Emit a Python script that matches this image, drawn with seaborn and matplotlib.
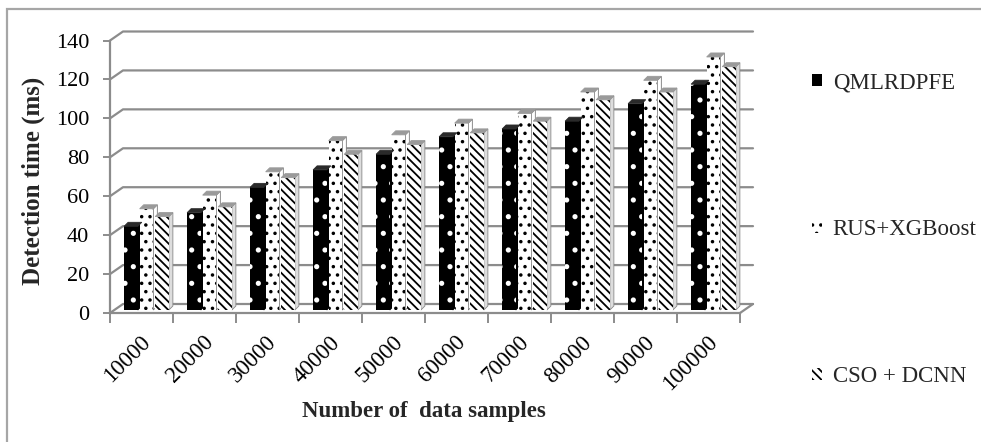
import numpy as np
import pandas as pd
import matplotlib
matplotlib.use("Agg")
import matplotlib.pyplot as plt
import matplotlib.transforms as mtrans
import seaborn as sns
from matplotlib.patches import Patch, Polygon, Rectangle
from matplotlib.lines import Line2D

# ---------------- data ----------------
samples = ["10000", "20000", "30000", "40000", "50000",
           "60000", "70000", "80000", "90000", "100000"]
qmlrdpfe = [43, 50, 63, 72, 80, 89, 93, 97, 106, 116]
rus_xgboost = [52, 59, 71, 87, 90, 96, 101, 112, 118, 130]
cso_dcnn = [48, 53, 68, 80, 85, 91, 97, 108, 112, 125]
series_names = ["QMLRDPFE", "RUS+XGBoost", "CSO + DCNN"]
y_ticks = [0, 20, 40, 60, 80, 100, 120, 140]
x_label = "Number of  data samples"
y_label = "Detection time (ms)"

# ---------------- style ----------------
sns.set_theme(style="white")
plt.rcParams['font.family'] = ['Liberation Serif', 'DejaVu Serif']
plt.rcParams['hatch.linewidth'] = 1.3

W, H = 981, 442
fig = plt.figure(figsize=(W / 100, H / 100), dpi=100)
fig.patch.set_facecolor("white")


def fx(px):
    return px / W


def fy(py):
    return 1 - py / H


GRAY = "#8c8c8c"
ax = fig.add_axes([fx(110), fy(313), fx(740) - fx(110), fy(40.5) - fy(313)])
ax.set_facecolor("none")

df = pd.DataFrame({
    "samples": samples * 3,
    "time": qmlrdpfe + rus_xgboost + cso_dcnn,
    "method": [series_names[0]] * len(samples) + [series_names[1]] * len(samples)
              + [series_names[2]] * len(samples),
})

sns.barplot(data=df, x="samples", y="time", hue="method", order=samples,
            hue_order=series_names, width=0.74, gap=0.12, errorbar=None,
            palette=["black", "white", "white"], legend=False, ax=ax, zorder=3)

ax.set_xlim(-0.5, len(samples) - 0.5)
ax.set_ylim(0, 140)

styles = [
    dict(face="black", edge="white", hatch=".", cap="#2a2a2a", side="black", side_edge="black"),
    dict(face="white", edge="black", hatch="..", cap="#9a9a9a", side="white", side_edge="#777777"),
    dict(face="white", edge="black", hatch="\\\\\\\\", cap="#9a9a9a", side="#dddddd", side_edge="#888888"),
]

bar_off = mtrans.ScaledTranslation(5 / 100, 3 / 100, fig.dpi_scale_trans)
bar_tr = ax.transData + bar_off
ident = mtrans.IdentityTransform()
dx, dy = 4, 4

for cont, st in zip(ax.containers, styles):
    for p in cont.patches:
        p.set_facecolor(st["face"])
        p.set_edgecolor(st["edge"])
        p.set_hatch(st["hatch"])
        p.set_linewidth(0)
        p.set_transform(bar_tr)
        x0 = p.get_x()
        x1 = x0 + p.get_width()
        h = p.get_height()
        (X0, Y0) = bar_tr.transform((x0, 0))
        (X1, Yh) = bar_tr.transform((x1, h))
        side = Polygon([(X1, Y0), (X1, Yh), (X1 + dx, Yh + dy), (X1 + dx, Y0 + dy)],
                       closed=True, transform=ident, facecolor=st["side"],
                       edgecolor=st["side_edge"], lw=0.6, zorder=2.9,
                       clip_on=False)
        ax.add_artist(side)
        cap = Polygon([(X0, Yh), (X1, Yh), (X1 + dx, Yh + dy), (X0 + dx, Yh + dy)],
                      closed=True, transform=ident, facecolor=st["cap"],
                      edgecolor=st["cap"], lw=0.6, zorder=3.1, clip_on=False)
        ax.add_artist(cap)

# ---------------- 3D-like walls / grid ----------------
gdx, gdy = 13, 9
xl0, xl1 = ax.get_xlim()
for v in y_ticks:
    (FX, FY) = ax.transData.transform((xl0, v))
    (RX, RY) = ax.transData.transform((xl1, v))
    ax.add_line(Line2D([FX, FX + gdx, RX + gdx], [FY, FY + gdy, RY + gdy],
                       transform=ident, color=GRAY, lw=1.6, zorder=1, clip_on=False))
(RX, RY) = ax.transData.transform((xl1, 0))
ax.add_line(Line2D([RX, RX + gdx], [RY, RY + gdy], transform=ident,
                   color=GRAY, lw=1.6, zorder=1, clip_on=False))

for s in ["top", "right"]:
    ax.spines[s].set_visible(False)
for s in ["left", "bottom"]:
    ax.spines[s].set_color(GRAY)
    ax.spines[s].set_linewidth(1.6)
    ax.spines[s].set_zorder(1)

ax.set_yticks(y_ticks)
ax.set_yticklabels([str(v) for v in y_ticks])
ax.tick_params(axis="y", length=5, width=1.4, color=GRAY, labelsize=16, pad=10,
               labelcolor="black", left=True)
ax.set_xticks(range(len(samples)))
ax.set_xticklabels(samples, rotation=45, ha="right", va="center",
                   rotation_mode="anchor")
ax.set_xticks(np.arange(-0.5, len(samples), 1), minor=True)
ax.tick_params(axis="x", which="major", length=0, labelsize=16.5, pad=19,
               labelcolor="black")
ax.tick_params(axis="x", which="minor", length=7, width=1.4, color=GRAY, bottom=True)
lab_off = mtrans.ScaledTranslation(6 / 100, 0, fig.dpi_scale_trans)
for lab in ax.get_xticklabels():
    lab.set_transform(lab.get_transform() + lab_off)

ax.set_xlabel("")
ax.set_ylabel("")
ax.grid(False)

fig.text(fx(424), fy(411), x_label, ha="center", va="center",
         fontsize=16.5, fontweight="bold")
fig.text(fx(33), fy(181), y_label, ha="center", va="center", rotation=90,
         fontsize=18, fontweight="bold")

# ---------------- legend ----------------
handles = [Patch(facecolor=st["face"], edgecolor=st["edge"], hatch=st["hatch"], lw=0)
           for st in styles]
ax.legend(handles, series_names, loc="upper left",
          bbox_to_anchor=(fx(812), fy(72)), bbox_transform=fig.transFigure,
          frameon=False, fontsize=16.5, handlelength=0.45, handleheight=0.45,
          handletextpad=0.45, labelspacing=5.5, borderaxespad=0, borderpad=0)

# outer chart border
fig.add_artist(Rectangle((fx(7), -0.1), 1.0, fy(9) + 0.1, transform=fig.transFigure,
                         fill=False, edgecolor="#a6a6a6", lw=1.6))

fig.savefig("out.png", dpi=100)
